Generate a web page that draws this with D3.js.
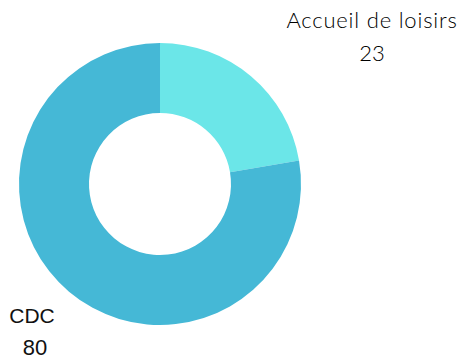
<!DOCTYPE html>
<html>
<head>
<meta charset="utf-8">
<script src="https://cdn.jsdelivr.net/npm/d3@7"></script>
<style>
  html, body { margin: 0; padding: 0; background: #fff; }
  svg { display: block; }
</style>
</head>
<body>
<svg id="chart" width="461" height="361"></svg>
<script>
// Donut of participants by structure
const categories = ["Accueil de loisirs", "CDC"];
const values = [23, 80];
const colors = ["#6be6e8", "#45b8d6"];

const svg = d3.select("#chart");
const cx = 160, cy = 184;
const outerR = 141, innerR = 71;

const pie = d3.pie().sort(null).value(d => d.value);
const arcs = pie(categories.map((c, i) => ({ name: c, value: values[i] })));
const arc = d3.arc().innerRadius(innerR).outerRadius(outerR);

const g = svg.append("g").attr("transform", `translate(${cx},${cy})`);
g.selectAll("path")
  .data(arcs)
  .join("path")
  .attr("d", arc)
  .attr("fill", (d, i) => colors[i]);

// Category labels with values
const topLabel = svg.append("g")
  .attr("font-family", "Lato, 'Liberation Sans', sans-serif")
  .attr("font-weight", 300)
  .attr("font-size", 22)
  .attr("fill", "#000");
topLabel.append("text").attr("x", 372).attr("y", 28).attr("text-anchor", "middle")
  .attr("letter-spacing", 0.8).text(categories[0]);
topLabel.append("text").attr("x", 372).attr("y", 61).attr("text-anchor", "middle").text(values[0]);

const bottomLabel = svg.append("g")
  .attr("font-family", "'Liberation Sans', Arial, sans-serif")
  .attr("font-size", 21)
  .attr("fill", "#111");
bottomLabel.append("text").attr("x", 32).attr("y", 323).attr("text-anchor", "middle").text(categories[1]);
bottomLabel.append("text").attr("x", 35).attr("y", 355).attr("text-anchor", "middle").attr("font-size", 22).text(values[1]);
</script>
</body>
</html>
